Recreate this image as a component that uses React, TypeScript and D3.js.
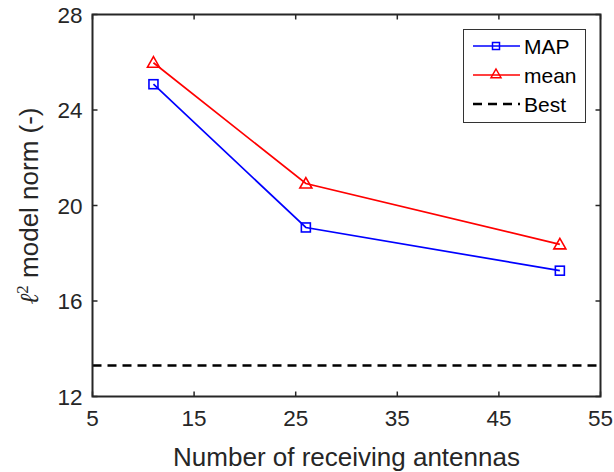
import React from "react";
import * as d3 from "d3";

const antennas = [11, 26, 51];
const mapValues = [25.08, 19.08, 17.27];
const meanValues = [25.98, 20.92, 18.37];
const bestValue = 13.3;
const xTicks = [5, 15, 25, 35, 45, 55];
const yTicks = [12, 16, 20, 24, 28];

const W = 614, H = 472;
const M = { left: 92.5, right: 600.5, top: 14.5, bottom: 396.5 };
const FONT = "Arial, 'Liberation Sans', Helvetica, sans-serif";
const TICK_FS = 22.5;
const LABEL_FS = 26;
const LEG_FS = 21;

export default function App() {
  const x = d3.scaleLinear().domain([5, 55]).range([M.left, M.right]);
  const y = d3.scaleLinear().domain([12, 28]).range([M.bottom, M.top]);
  const line = d3.line<number>().x((_, i) => x(antennas[i])).y((d) => y(d));
  const tl = 5;
  const axisColor = "#262626";

  const tri = (cx: number, cy: number, s = 6) =>
    `M${cx},${cy - s} L${cx + s},${cy + s * 0.75} L${cx - s},${cy + s * 0.75} Z`;

  const legX = 463.5, legY = 29.5, legW = 122, legH = 93;
  const rows = [46, 75, 104];

  return (
    <svg width={W} height={H} style={{ position: "absolute", left: 0, top: 0, background: "#fff" }}>
      <rect x={0} y={0} width={W} height={H} fill="#fff" />
      {/* best line */}
      <line x1={M.left} x2={M.right} y1={y(bestValue)} y2={y(bestValue)} stroke="#000" strokeWidth={2.5} strokeDasharray="9,6" />
      {/* series */}
      <path d={line(meanValues) || ""} fill="none" stroke="#ff0000" strokeWidth={1.7} />
      <path d={line(mapValues) || ""} fill="none" stroke="#0000ff" strokeWidth={1.7} />
      {meanValues.map((v, i) => (
        <path key={"m" + i} d={tri(x(antennas[i]), y(v))} fill="none" stroke="#ff0000" strokeWidth={1.6} />
      ))}
      {mapValues.map((v, i) => (
        <rect key={"p" + i} x={x(antennas[i]) - 4.5} y={y(v) - 4.5} width={9} height={9} fill="none" stroke="#0000ff" strokeWidth={1.6} />
      ))}
      {/* axes box */}
      <rect x={M.left} y={M.top} width={M.right - M.left} height={M.bottom - M.top} fill="none" stroke={axisColor} strokeWidth={2} />
      {xTicks.map((t) => (
        <g key={"xt" + t}>
          <line x1={x(t)} x2={x(t)} y1={M.bottom} y2={M.bottom - tl} stroke={axisColor} strokeWidth={1.5} />
          <line x1={x(t)} x2={x(t)} y1={M.top} y2={M.top + tl} stroke={axisColor} strokeWidth={1.5} />
          <text x={x(t)} y={M.bottom + 29} textAnchor="middle" fontFamily={FONT} fontSize={TICK_FS} fill={axisColor}>{t}</text>
        </g>
      ))}
      {yTicks.map((t) => (
        <g key={"yt" + t}>
          <line x1={M.left} x2={M.left + tl} y1={y(t)} y2={y(t)} stroke={axisColor} strokeWidth={1.5} />
          <line x1={M.right} x2={M.right - tl} y1={y(t)} y2={y(t)} stroke={axisColor} strokeWidth={1.5} />
          <text x={M.left - 10} y={y(t) + 8} textAnchor="end" fontFamily={FONT} fontSize={TICK_FS} fill={axisColor}>{t}</text>
        </g>
      ))}
      <text x={(M.left + M.right) / 2} y={466} textAnchor="middle" fontFamily={FONT} fontSize={LABEL_FS} fill={axisColor}>
        Number of receiving antennas
      </text>
      <g transform={`translate(38, 206) rotate(-90)`}>
        <text textAnchor="middle" fontFamily={FONT} fontSize={LABEL_FS} fill={axisColor}>
          <tspan fontFamily="'DejaVu Serif', 'Liberation Serif', serif" fontStyle="italic">ℓ</tspan>
          <tspan fontFamily="'Liberation Serif', serif" fontSize={17} dy={-10}>2</tspan>
          <tspan dy={10}> model norm (-)</tspan>
        </text>
      </g>
      {/* legend */}
      <rect x={legX} y={legY} width={legW} height={legH} fill="#fff" stroke="#333" strokeWidth={1} />
      <line x1={473} x2={520} y1={rows[0]} y2={rows[0]} stroke="#0000ff" strokeWidth={1.7} />
      <rect x={492.5} y={rows[0] - 3.5} width={7} height={7} fill="none" stroke="#0000ff" strokeWidth={1.5} />
      <line x1={473} x2={520} y1={rows[1]} y2={rows[1]} stroke="#ff0000" strokeWidth={1.7} />
      <path d={tri(496, rows[1] - 1, 5)} fill="none" stroke="#ff0000" strokeWidth={1.5} />
      <line x1={473} x2={520} y1={rows[2]} y2={rows[2]} stroke="#000" strokeWidth={2.5} strokeDasharray="9,6" />
      {["MAP", "mean", "Best"].map((s, i) => (
        <text key={s} x={524} y={rows[i] + 7.5} fontFamily={FONT} fontSize={LEG_FS} fill="#000">{s}</text>
      ))}
    </svg>
  );
}
